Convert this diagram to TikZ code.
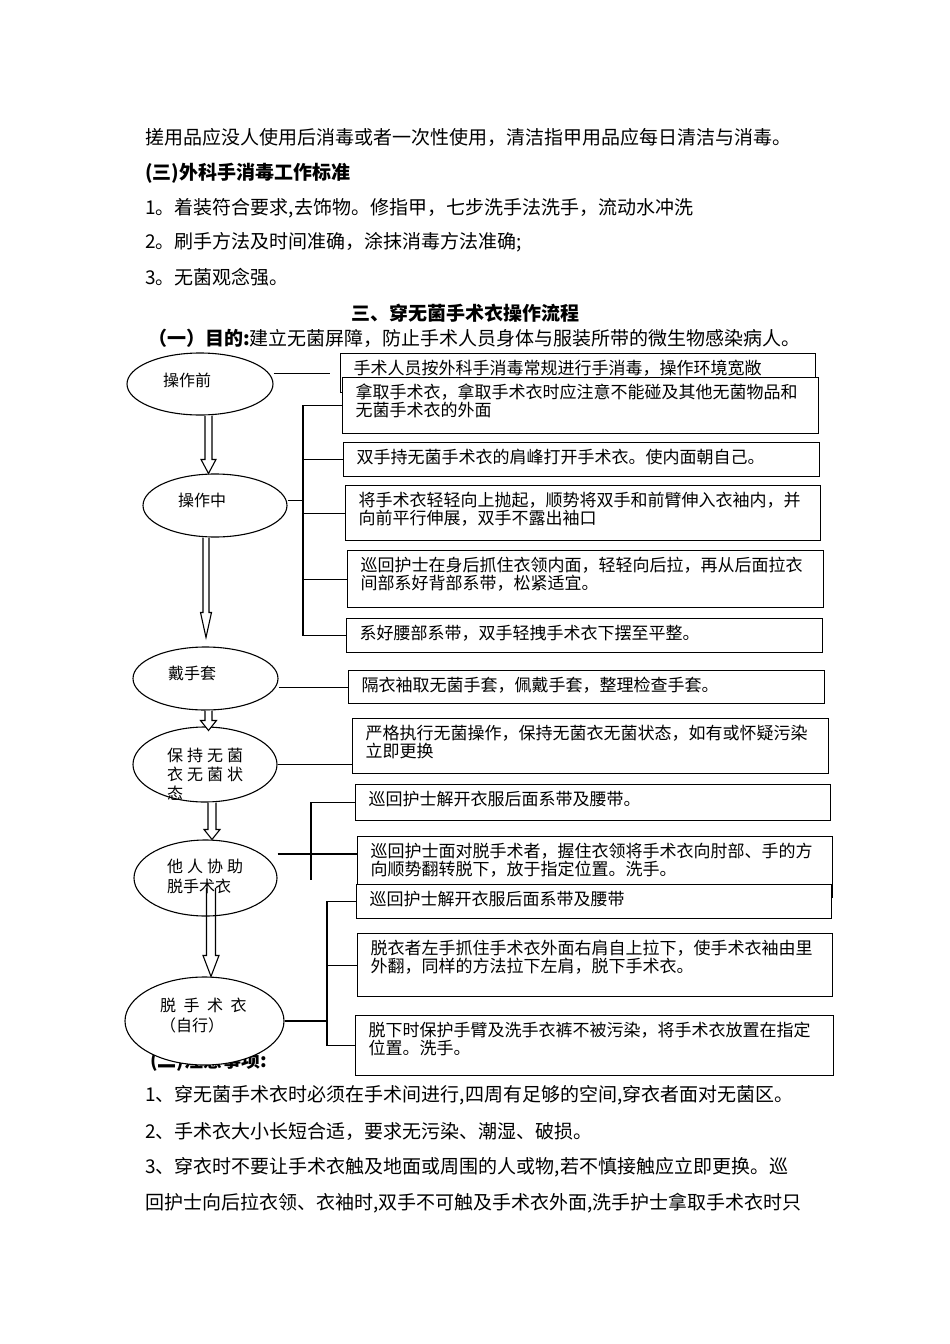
\documentclass[tikz,border=0pt]{standalone}
\usepackage{fontspec}
\setmainfont{Noto Sans CJK SC}
\usetikzlibrary{shapes.geometric,calc}
\newcommand{\bt}[3]{\parbox[c][#2][t]{#1}{\fontsize{17pt}{18pt}\selectfont\leftskip=13pt\vspace*{6.5pt}#3\par}}
\newcommand{\barrow}[6][]{%
  \path (#2 |- #3) coordinate (tmptip);
  \draw[harrow,#1] ($(#2)+(-#5,0)$) -- ($(tmptip)+(-#5,-#4)$) -- ($(tmptip)+(-#6,-#4)$) -- (tmptip)
     -- ($(tmptip)+(#6,-#4)$) -- ($(tmptip)+(#5,-#4)$) -- ($(#2)+(#5,0)$);}
\tikzset{
  mt/.style={anchor=west, inner sep=0pt, font=\fontsize{19pt}{22pt}\selectfont},
  mtb/.style={mt, font=\fontsize{19pt}{22pt}\selectfont\bfseries},
  boxs/.style={draw, fill=white, line width=1.1pt, rectangle, inner sep=0pt, anchor=north west},
  ell/.style={draw, fill=white, line width=1.1pt, ellipse, inner sep=0pt},
  et/.style={inner sep=0pt, align=left, font=\fontsize{16pt}{19pt}\selectfont},
  conn/.style={line width=1.1pt},
  harrow/.style={line width=1.1pt, fill=white, line join=miter}
}
\begin{document}
\begin{tikzpicture}[x=1pt,y=-1pt]
\useasboundingbox (0,0) rectangle (950,1344);
% ---------- running text ----------
\node[mt] (t1) at (145,137) {搓用品应没人使用后消毒或者一次性使用，清洁指甲用品应每日清洁与消毒。};
\node[mtb] (t2) at (145,173) {(三)外科手消毒工作标准};
\node[mt] (t3) at (145,208) {1。着装符合要求,去饰物。修指甲，七步洗手法洗手，流动水冲洗};
\node[mt] (t4) at (145,242) {2。刷手方法及时间准确，涂抹消毒方法准确;};
\node[mt] (t5) at (145,277) {3。无菌观念强。};
\node[mtb,anchor=center] (t6) at (465,313) {三、穿无菌手术衣操作流程};
\node[mt] (t7) at (148,338) {\bfseries （一）目的:\mdseries 建立无菌屏障，防止手术人员身体与服装所带的微生物感染病人。};
\node[mtb] (t8) at (150,1061) {(二)注意事项:};
\node[mt] (t9) at (145,1095) {1、穿无菌手术衣时必须在手术间进行,四周有足够的空间,穿衣者面对无菌区。};
\node[mt] (t10) at (145,1131) {2、手术衣大小长短合适，要求无污染、潮湿、破损。};
\node[mt] (t11) at (145,1167) {3、穿衣时不要让手术衣触及地面或周围的人或物,若不慎接触应立即更换。巡};
\node[mt] (t12) at (145,1203) {回护士向后拉衣领、衣袖时,双手不可触及手术衣外面,洗手护士拿取手术衣时只};
% ---------- ellipses ----------
\node[ell, minimum width=146pt, minimum height=62pt] (e1) at (200,384) {};
\node[et, anchor=west] (e1t) at (163,380) {操作前};
\node[ell, minimum width=144pt, minimum height=63pt] (e2) at (215,505.5) {};
\node[et, anchor=west] (e2t) at (178,500) {操作中};
\node[ell, minimum width=145pt, minimum height=63pt] (e3) at (205.5,678.5) {};
\node[et, anchor=west] (e3t) at (168,673) {戴手套};
\node[ell, minimum width=144pt, minimum height=75pt] (e4) at (205,764.5) {};
\node[et, anchor=north west] (e4t) at (167,748) {保\kern4pt 持\kern4pt 无\kern4pt 菌\\衣\kern4pt 无\kern4pt 菌\kern4pt 状\\态};
\node[ell, minimum width=143pt, minimum height=76pt] (e5) at (205.5,878) {};
\node[et, anchor=north west, font=\fontsize{16pt}{20pt}\selectfont] (e5t) at (167,859) {他\kern4pt 人\kern4pt 协\kern4pt 助\\脱手术衣};
\node[ell, minimum width=159pt, minimum height=88pt] (e6) at (204.5,1021) {};
\node[et, anchor=north west, font=\fontsize{16pt}{20pt}\selectfont] (e6t) at (160,998) {脱\kern7.5pt 手\kern7.5pt 术\kern7.5pt 衣\\（自行）};
% ---------- boxes ----------
\node[boxs] (b1) at (340,353) {\bt{475pt}{39pt}{手术人员按外科手消毒常规进行手消毒，操作环境宽敞}};
\node[boxs] (b2) at (342,377) {\bt{476pt}{56pt}{拿取手术衣，拿取手术衣时应注意不能碰及其他无菌物品和\\无菌手术衣的外面}};
\node[boxs] (b3) at (343,442) {\bt{476pt}{34pt}{双手持无菌手术衣的肩峰打开手术衣。使内面朝自己。}};
\node[boxs] (b4) at (345,485) {\bt{475pt}{55pt}{将手术衣轻轻向上抛起，顺势将双手和前臂伸入衣袖内，并\\向前平行伸展，双手不露出袖口}};
\node[boxs] (b5) at (347,550) {\bt{476pt}{57pt}{巡回护士在身后抓住衣领内面，轻轻向后拉，再从后面拉衣\\间部系好背部系带，松紧适宜。}};
\node[boxs] (b6) at (346,618) {\bt{476pt}{34pt}{系好腰部系带，双手轻拽手术衣下摆至平整。}};
\node[boxs] (b7) at (348,670) {\bt{476pt}{33pt}{隔衣袖取无菌手套，佩戴手套，整理检查手套。}};
\node[boxs] (b8) at (352,718) {\bt{476pt}{55pt}{严格执行无菌操作，保持无菌衣无菌状态，如有或怀疑污染\\立即更换}};
\node[boxs] (b9) at (355,784) {\bt{475pt}{36pt}{巡回护士解开衣服后面系带及腰带。}};
\node[boxs] (b10) at (357,836) {\bt{475pt}{61pt}{巡回护士面对脱手术者，握住衣领将手术衣向肘部、手的方\\向顺势翻转脱下，放于指定位置。洗手。}};
\node[boxs] (b11) at (356,884) {\bt{475pt}{34pt}{巡回护士解开衣服后面系带及腰带}};
\node[boxs] (b12) at (357,933) {\bt{475pt}{63pt}{脱衣者左手抓住手术衣外面右肩自上拉下，使手术衣袖由里\\外翻，同样的方法拉下左肩，脱下手术衣。}};
\node[boxs] (b13) at (355,1015) {\bt{478pt}{60pt}{脱下时保护手臂及洗手衣裤不被污染，将手术衣放置在指定\\位置。洗手。}};
% ---------- connectors ----------
\coordinate (s1) at (303,0);
\coordinate (s2end) at (311,880);
\coordinate (s3) at (327,0);
\coordinate (e2r) at ($(e2.east)+(0,-5)$);
\coordinate (e5r) at ($(e5.east)+(0,-24)$);
\draw[conn] (e1.east |- b1.west) -- ([xshift=-10pt]b1.west);
\draw[conn] (b2.west) -| (s1 |- b6.west) -- (b6.west);
\draw[conn] (b3.west) -- (s1 |- b3.west);
\draw[conn] (b4.west) -- (s1 |- b4.west);
\draw[conn] (b5.west) -- (s1 |- b5.west);
\draw[conn] (e2r) -- (s1 |- e2r);
\draw[conn] (b7.west -| e3.east) -- (b7.west);
\draw[conn] (e4.east) -- (e4.east -| b8.west);
\draw[conn] (e5r) -- (e5r -| b10.west);
\draw[conn] (b9.west) -| (s2end);
\draw[conn] (b11.west) -| (s3 |- b13.west) -- (b13.west);
\draw[conn] (b12.west) -- (s3 |- b12.west);
\draw[conn] (e6.east) -- (s3 |- e6.east);
% ---------- block arrows ----------
\coordinate (a1) at ($(e1.south)+(8.5,0)$);
\coordinate (a2) at ($(e2.south)+(-9,0)$);
\coordinate (a2t) at ($(e3.north)+(0,-9)$);
\coordinate (a3) at ($(e3.south)+(3,0)$);
\coordinate (a3t) at ($(e4.north)+(0,4)$);
\coordinate (a4) at ($(e4.south)+(7,0)$);
\coordinate (a5) at ($(e5.center)+(5.5,10)$);
\barrow{a1}{e2.north}{14}{3.5}{7.5}
\barrow{a2}{a2t}{25}{3}{5.5}
\barrow{a3}{a3t}{10}{3.5}{8}
\barrow{a4}{e5.north}{10}{4}{8}
\barrow[fill=none]{a5}{e6.north}{21}{4.5}{8}
\end{tikzpicture}
\end{document}
